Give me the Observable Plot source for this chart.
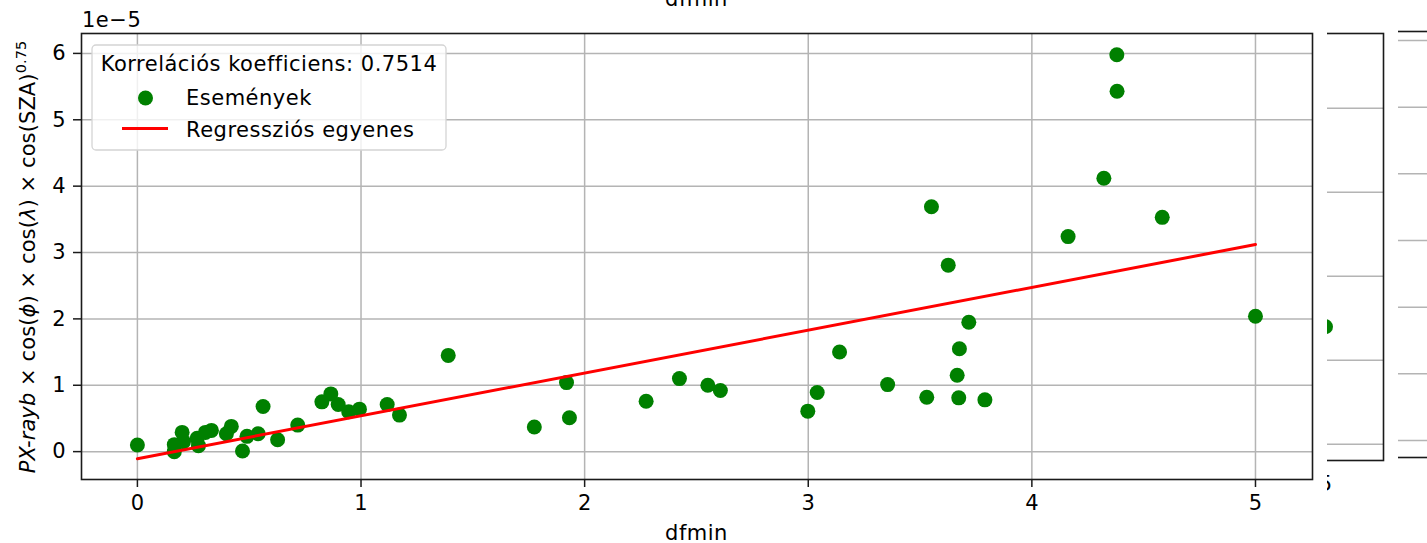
<!DOCTYPE html>
<html><head><meta charset="utf-8">
<script src="https://cdn.jsdelivr.net/npm/d3@7"></script>
<script src="https://cdn.jsdelivr.net/npm/@observablehq/plot@0.6"></script>
<style>
html,body{margin:0;padding:0;background:#fff;}
#wrap{position:relative;width:1427px;height:543px;overflow:hidden;background:#fff;}
.abs{position:absolute;top:0;max-width:none !important;}
.clipbox{position:absolute;top:0;height:543px;overflow:hidden;}
</style></head><body><div id="wrap"></div>
<script>
// ---- data (values in units of 1e-5) ----
const dfmin = [0.00,0.165,0.165,0.20,0.206,0.267,0.273,0.304,0.331,0.398,0.42,0.47,0.49,0.54,0.562,0.627,0.717,0.825,0.865,0.898,0.945,0.993,1.117,1.172,1.39,1.775,1.919,1.932,2.275,2.424,2.551,2.607,2.998,3.04,3.14,3.355,3.53,3.551,3.626,3.666,3.673,3.676,3.718,3.79,4.162,4.322,4.38,4.381,4.583,5.00];
const pxValue = [0.10,0.105,0.00,0.29,0.15,0.20,0.09,0.29,0.32,0.27,0.38,0.01,0.23,0.27,0.68,0.18,0.40,0.75,0.87,0.71,0.60,0.64,0.71,0.55,1.45,0.37,1.04,0.51,0.76,1.10,1.00,0.92,0.61,0.89,1.50,1.01,0.82,3.69,2.81,1.15,0.81,1.55,1.95,0.78,3.24,4.12,5.98,5.43,3.53,2.04];
const regX = [0, 5.0];
const regY = [-0.106, 3.12];
const xTicks = [0,1,2,3,4,5];
const yTicks = [0,1,2,3,4,5,6];
const corr = "0.7514";
// neighbouring panel fragments
const panelBTicks = [0,1,2,3,4];
const panelBDotX = [5];
const panelBDotY = [1.40];
const panelCTicks = [0,1,2,3,4,5,6];

const points = dfmin.map((x,i)=>({x, y: pxValue[i]}));
const reg = regX.map((x,i)=>({x, y: regY[i]}));

const FONT = "DejaVu Sans";
const GRID = "#b4b4b4";
const SPINE = "#1a1a1a";

const wrap = document.getElementById("wrap");

const main = Plot.plot({
  width: 1427, height: 543,
  marginLeft: 81, marginRight: 115, marginTop: 33, marginBottom: 64,
  style: {fontFamily: FONT, fontSize: "21px", color: "#000", background: "transparent"},
  x: {domain: [-0.25, 5.255]},
  y: {domain: [-0.42, 6.30]},
  marks: [
    Plot.gridX(xTicks, {stroke: GRID, strokeOpacity: 1, strokeWidth: 1.5}),
    Plot.gridY(yTicks, {stroke: GRID, strokeOpacity: 1, strokeWidth: 1.5}),
    Plot.dot(points, {x: "x", y: "y", r: 7.5, fill: "#008000", stroke: "none"}),
    Plot.line(reg, {x: "x", y: "y", stroke: "#ff0000", strokeWidth: 3}),
    Plot.frame({stroke: SPINE, strokeWidth: 1.6}),
    Plot.axisX(xTicks, {tickSize: 8, tickPadding: 8, strokeWidth: 1.5, stroke: SPINE, label: null, tickFormat: d => String(d)}),
    Plot.axisY(yTicks, {tickSize: 8, tickPadding: 8, strokeWidth: 1.5, stroke: SPINE, label: null, tickFormat: d => String(d)})
  ]
});
main.classList.add("abs");
main.style.left = "0px";
wrap.appendChild(main);

const svg = d3.select(main);
function txt(x, y, s, anchor, size, ls) {
  return svg.append("text").attr("x", x).attr("y", y).attr("text-anchor", anchor)
    .attr("font-family", FONT).attr("font-size", size || 21).attr("fill", "#000")
    .style("letter-spacing", (ls == null ? 0.5 : ls) + "px").text(s);
}
// axis labels and offset text
txt(696.5, 539.5, "dfmin", "middle");
txt(696.5, 6, "dfmin", "middle");
txt(82, 26.5, "1e\u22125", "start");
const yl = svg.append("text").attr("transform","translate(35,257) rotate(-90)")
  .attr("text-anchor","middle").attr("font-family", FONT).attr("font-size", 21).attr("fill","#000")
  .style("letter-spacing", "0.1px");
yl.append("tspan").attr("font-style","italic").text("PX-rayb");
yl.append("tspan").text(" \u00d7 cos(");
yl.append("tspan").attr("font-style","italic").text("\u03d5");
yl.append("tspan").text(") \u00d7 cos(");
yl.append("tspan").attr("font-style","italic").text("\u03bb");
yl.append("tspan").text(") \u00d7 cos(SZA)");
yl.append("tspan").attr("dy", -9).attr("font-size", 14.5).text("0.75");

// legend
svg.append("rect").attr("x", 92).attr("y", 45).attr("width", 354).attr("height", 105).attr("rx", 4)
  .attr("fill", "#fff").attr("fill-opacity", 0.8).attr("stroke", "#d4d4d4").attr("stroke-width", 1.3);
txt(269, 71, "Korrelációs koefficiens: " + corr, "middle");
svg.append("circle").attr("cx", 145.5).attr("cy", 98).attr("r", 7.5).attr("fill", "#008000");
txt(186, 104.5, "Események", "start");
svg.append("line").attr("x1", 122).attr("x2", 168).attr("y1", 128.5).attr("y2", 128.5)
  .attr("stroke", "#ff0000").attr("stroke-width", 3);
txt(186, 137, "Regressziós egyenes", "start");

// ---- neighbouring panel B fragment ----
const boxB = document.createElement("div");
boxB.className = "clipbox"; boxB.style.left = "1327px"; boxB.style.width = "60px";
wrap.appendChild(boxB);
const pB = Plot.plot({
  width: 118, height: 543,
  marginLeft: 0, marginRight: 2, marginTop: 33, marginBottom: 83,
  style: {fontFamily: FONT, fontSize: "21px", color: "#000", background: "transparent"},
  x: {domain: [4, 6]},
  y: {domain: [-0.193, 4.89]},
  marks: [
    Plot.gridY(panelBTicks, {stroke: GRID, strokeOpacity: 1, strokeWidth: 1.5}),
    Plot.dot(panelBDotX.map((x,i)=>({x, y: panelBDotY[i]})), {x: "x", y: "y", r: 7.5, fill: "#008000"}),
    Plot.frame({stroke: SPINE, strokeWidth: 1.6}),
    Plot.axisX([5], {tickSize: 8, tickPadding: 8, label: null, tickFormat: d => String(d)}),
    Plot.axisY([], {label: null})
  ]
});
pB.classList.add("abs"); pB.style.left = "-60px"; pB.style.maxWidth = "none";
boxB.appendChild(pB);

// ---- neighbouring panel C fragment ----
const boxC = document.createElement("div");
boxC.className = "clipbox"; boxC.style.left = "1398px"; boxC.style.width = "29px";
wrap.appendChild(boxC);
const pC = Plot.plot({
  width: 100, height: 543,
  marginLeft: 0, marginRight: 0, marginTop: 31, marginBottom: 86,
  style: {fontFamily: FONT, fontSize: "21px", color: "#000", background: "transparent"},
  x: {domain: [0, 1]},
  y: {domain: [-0.255, 6.135]},
  marks: [
    Plot.gridY(panelCTicks, {stroke: GRID, strokeOpacity: 1, strokeWidth: 1.5}),
    Plot.frame({stroke: SPINE, strokeWidth: 1.6}),
    Plot.axisX([], {label: null}),
    Plot.axisY([], {label: null})
  ]
});
pC.classList.add("abs"); pC.style.left = "-10px"; pC.style.maxWidth = "none";
boxC.appendChild(pC);
</script>
</body></html>
